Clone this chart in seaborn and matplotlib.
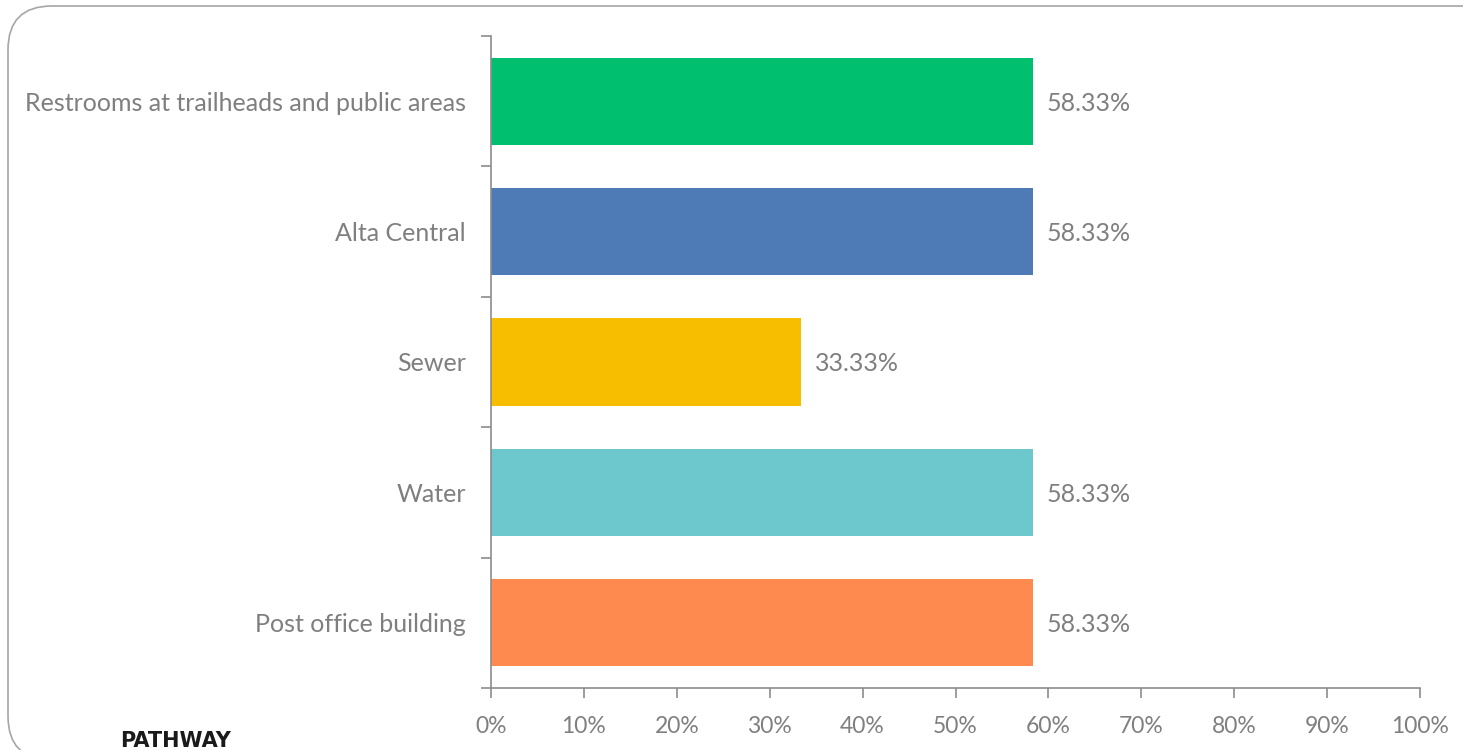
import matplotlib
matplotlib.use("Agg")
import matplotlib.pyplot as plt
import seaborn as sns
import pandas as pd
from matplotlib.patches import FancyBboxPatch
from matplotlib.ticker import FuncFormatter

categories = ["Restrooms at trailheads and public areas", "Alta Central", "Sewer", "Water", "Post office building"]
values = [58.33, 58.33, 33.33, 58.33, 58.33]
colors = ["#00BF6F", "#4E7AB5", "#F7BE00", "#6CC8CC", "#FF8A50"]
xticks = [0, 10, 20, 30, 40, 50, 60, 70, 80, 90, 100]

sns.set_theme(style="white")
plt.rcParams['font.family'] = ['Lato', 'DejaVu Sans']

TEXT = "#7F7F7F"
AXC = "#8C8C8C"

fig = plt.figure(figsize=(14.63, 7.5), dpi=100)
ax = fig.add_axes([491/1463, 1-688/750, (1420-491)/1463, (688-36)/750])

df = pd.DataFrame({"cat": categories, "val": values})
sns.barplot(data=df, y="cat", x="val", hue="cat", palette=colors, legend=False,
            width=0.67, orient="h", ax=ax, saturation=1, linewidth=0)

ax.set_xlim(0, 100)
ax.set_ylim(4.5, -0.5)
ax.set_xticks(xticks)
ax.xaxis.set_major_formatter(FuncFormatter(lambda v, p: f"{int(v)}%"))
ax.set_xlabel("")
ax.set_ylabel("")

for s in ["top", "right"]:
    ax.spines[s].set_visible(False)
for s in ["left", "bottom"]:
    ax.spines[s].set_color(AXC)
    ax.spines[s].set_linewidth(1.2)

ax.tick_params(axis="x", which="major", direction="out", length=7, width=1.2, color=AXC,
               labelsize=16.5, labelcolor=TEXT, pad=13, bottom=True)
ax.tick_params(axis="y", which="major", length=0, labelsize=18, labelcolor=TEXT, pad=18, left=True)
for lbl in ax.get_yticklabels():
    lbl.set_verticalalignment("center_baseline")
ax.set_yticks([i - 0.5 for i in range(len(categories) + 1)], minor=True)
ax.tick_params(axis="y", which="minor", direction="out", length=7, width=1.2, color=AXC, left=True)

for i, v in enumerate(values):
    ax.text(v + 1.5, i, f"{v:.2f}%", va="center_baseline", ha="left", fontsize=18, color=TEXT)

box = FancyBboxPatch((8/1463, -10/750), 1.1, 1 - (6/750) + 10/750,
                     boxstyle="round,pad=0,rounding_size=0.03",
                     transform=fig.transFigure, fill=False, edgecolor="#A6A6A6",
                     linewidth=1.2, mutation_aspect=1463/750)
fig.patches.append(box)

fig.text(120/1463, 1-741/750, "PATHWAY", fontsize=15, fontweight="bold", color="#1A1A1A",
         va="center", ha="left", family=["DejaVu Sans"])

fig.savefig("out.png", dpi=100)
